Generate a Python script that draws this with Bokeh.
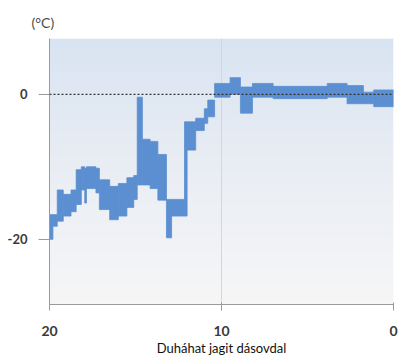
import numpy as np
from bokeh.plotting import figure
from bokeh.models import Range1d, Span, FixedTicker, Title, ColumnDataSource
from bokeh.embed import file_html
from bokeh.resources import INLINE

# ---- data ----
seg_start = [20.0, 19.8, 19.55, 19.2, 18.75, 18.45, 18.15, 17.95, 17.85, 17.3,
             17.1, 16.5, 16.0, 15.5, 15.1, 14.9, 14.6, 14.15, 13.7, 13.2,
             12.9, 12.15, 12.0, 11.5, 11.0, 10.8, 10.4, 9.5, 8.9, 8.2,
             7.0, 3.85, 2.7, 1.75, 1.15]
band_low = [-20.0, -18.2, -17.5, -16.8, -16.2, -15.2, -13.2, -15.0, -13.0, -13.6,
            -15.9, -17.3, -16.8, -15.6, -14.5, -12.5, -12.5, -13.0, -14.6, -19.8,
            -16.8, -16.8, -7.7, -5.0, -4.0, -3.1, -0.4, 0.0, -2.6, -0.4,
            -0.6, -0.4, -1.3, -1.3, -1.7]
band_high = [-16.6, -16.6, -13.2, -13.8, -13.2, -10.4, -10.0, -10.2, -10.0, -10.2,
             -11.8, -12.7, -12.3, -11.5, -11.2, -0.4, -6.2, -6.5, -8.3, -14.5,
             -14.5, -3.8, -3.8, -3.3, -2.0, -0.8, 1.5, 2.3, 1.0, 1.5,
             1.1, 1.5, 1.2, 0.3, 0.6]
x_ticks = [20, 10, 0]
y_ticks = [0, -20]
y_tick_labels = {0: "0", -20: "-20"}

seg_end = seg_start[1:] + [0.0]

Y0, Y1 = -29.0, 7.7

p = figure(width=398, height=358, output_backend="svg", toolbar_location=None,
           x_range=Range1d(20, 0), y_range=Range1d(Y0, Y1),
           min_border_left=49, min_border_right=5, min_border_top=38,
           min_border_bottom=50)
p.background_fill_color = "white"
p.border_fill_color = "white"
p.outline_line_color = None

# background gradient (vertical)
N = 100
t = np.linspace(0, 1, N)  # 0 bottom, 1 top
bot = np.array([0xf6, 0xf6, 0xf7], dtype=float)
mid = np.array([0xea, 0xee, 0xf4], dtype=float)
top = np.array([0xd9, 0xe4, 0xf2], dtype=float)
cols = np.where(t[:, None] < 0.5, bot + (mid - bot) * (t[:, None] / 0.5),
                mid + (top - mid) * ((t[:, None] - 0.5) / 0.5))
img = np.empty((N, 1), dtype=np.uint32)
view = img.view(dtype=np.uint8).reshape((N, 1, 4))
view[:, 0, 0] = cols[:, 0].astype(np.uint8)
view[:, 0, 1] = cols[:, 1].astype(np.uint8)
view[:, 0, 2] = cols[:, 2].astype(np.uint8)
view[:, 0, 3] = 255
p.image_rgba(image=[img], x=0, y=Y0, dw=20, dh=Y1 - Y0, level="image")

# band
src = ColumnDataSource(dict(left=seg_start, right=seg_end, bottom=band_low, top=band_high))
p.quad(left="left", right="right", bottom="bottom", top="top", source=src,
       fill_color="#5b8fd1", line_color="#5b8fd1", line_width=0.8)

# zero dotted line
p.add_layout(Span(location=0, dimension="width", line_color="#333333",
                  line_dash="2 2", line_width=1.2))

# grid
p.ygrid.visible = False
p.xgrid.ticker = FixedTicker(ticks=x_ticks)
p.xgrid.grid_line_color = "#d6d6d6"
p.xgrid.grid_line_width = 1
p.xgrid.level = "image"

# axes
p.xaxis.ticker = FixedTicker(ticks=x_ticks)
p.yaxis.ticker = FixedTicker(ticks=y_ticks)
p.yaxis.major_label_overrides = y_tick_labels
for ax in (p.xaxis[0], p.yaxis[0]):
    ax.axis_line_color = "#9a9a9a"
    ax.major_tick_line_color = "#9a9a9a"
    ax.minor_tick_line_color = None
    ax.major_label_text_font = "Lato"
    ax.major_label_text_font_style = "bold"
    ax.major_label_text_color = "#3a3a3a"
p.yaxis.major_tick_out = 11
p.yaxis.major_tick_in = 0
p.yaxis.major_label_standoff = 11
p.yaxis.major_label_text_font_size = "13px"
p.xaxis.major_tick_out = 6
p.xaxis.major_tick_in = 2
p.xaxis.major_label_standoff = 15
p.xaxis.major_label_text_font_size = "14px"
p.xaxis.major_label_text_line_height = 0.8
p.xaxis.axis_label = "Duháhat jagit dásovdal"
p.xaxis.axis_label_text_font = "Lato"
p.xaxis.axis_label_text_font_style = "normal"
p.xaxis.axis_label_text_font_size = "13px"
p.xaxis.axis_label_text_line_height = 0.8
p.xaxis.axis_label_text_color = "#111111"
p.xaxis.axis_label_standoff = 1

p.add_layout(Title(text="(°C)", align="left", offset=-18, standoff=16, text_font="Lato",
                   text_font_size="14px", text_font_style="normal",
                   text_color="#4a4a4a"), "above")

open("out.html", "w").write(file_html(p, INLINE))
